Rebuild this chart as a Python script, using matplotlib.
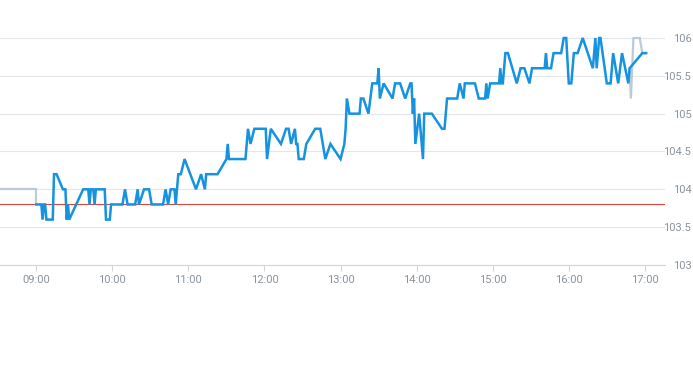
import matplotlib
matplotlib.use("Agg")
import matplotlib.pyplot as plt

# ---- data ----
main_times = ["09:00", "09:04", "09:05", "09:06", "09:07", "09:08", "09:13", "09:14", "09:16", "09:21",
              "09:23", "09:24", "09:25", "09:26", "09:37", "09:41", "09:42", "09:43", "09:45", "09:46",
              "09:47", "09:54", "09:55", "09:58", "09:59", "10:08", "10:10", "10:12", "10:18", "10:20",
              "10:21", "10:25", "10:29", "10:31", "10:40", "10:42", "10:44", "10:46", "10:49", "10:50",
              "10:52", "10:54", "10:57", "11:06", "11:10", "11:13", "11:14", "11:23", "11:30", "11:31",
              "11:32", "11:45", "11:47", "11:49", "11:52", "12:01", "12:02", "12:05", "12:13", "12:17",
              "12:19", "12:21", "12:24", "12:25", "12:26", "12:27", "12:31", "12:33", "12:40", "12:44",
              "12:48", "12:52", "13:00", "13:03", "13:04", "13:05", "13:07", "13:15", "13:16", "13:18",
              "13:22", "13:25", "13:29", "13:30", "13:31", "13:34", "13:41", "13:43", "13:47", "13:51",
              "13:55", "13:56", "13:57", "13:58", "13:59", "14:02", "14:05", "14:06", "14:12", "14:20",
              "14:22", "14:23", "14:24", "14:32", "14:34", "14:37", "14:38", "14:46", "14:49", "14:54",
              "14:55", "14:56", "14:58", "15:05", "15:06", "15:07", "15:08", "15:10", "15:12", "15:19",
              "15:22", "15:25", "15:29", "15:31", "15:41", "15:42", "15:43", "15:46", "15:48", "15:54",
              "15:56", "15:58", "16:00", "16:02", "16:04", "16:07", "16:11", "16:19", "16:21", "16:22",
              "16:24", "16:25", "16:30", "16:33", "16:35", "16:39", "16:42", "16:47", "16:48", "16:58",
              "17:01"]
main_prices = [103.8, 103.8, 103.6, 103.8, 103.8, 103.6, 103.6, 104.2, 104.2, 104.0,
               104.0, 103.6, 103.8, 103.6, 104.0, 104.0, 103.8, 104.0, 104.0, 103.8,
               104.0, 104.0, 103.6, 103.6, 103.8, 103.8, 104.0, 103.8, 103.8, 104.0,
               103.8, 104.0, 104.0, 103.8, 103.8, 104.0, 103.8, 104.0, 104.0, 103.8,
               104.2, 104.2, 104.4, 104.0, 104.2, 104.0, 104.2, 104.2, 104.4, 104.6,
               104.4, 104.4, 104.8, 104.6, 104.8, 104.8, 104.4, 104.8, 104.6, 104.8,
               104.8, 104.6, 104.8, 104.6, 104.6, 104.4, 104.4, 104.6, 104.8, 104.8,
               104.4, 104.6, 104.4, 104.6, 104.8, 105.2, 105.0, 105.0, 105.2, 105.2,
               105.0, 105.4, 105.4, 105.6, 105.2, 105.4, 105.2, 105.4, 105.4, 105.2,
               105.4, 105.4, 105.0, 105.2, 104.6, 105.0, 104.4, 105.0, 105.0, 104.8,
               104.8, 105.0, 105.2, 105.2, 105.4, 105.2, 105.4, 105.4, 105.2, 105.2,
               105.4, 105.2, 105.4, 105.4, 105.6, 105.4, 105.4, 105.8, 105.8, 105.4,
               105.6, 105.6, 105.4, 105.6, 105.6, 105.8, 105.6, 105.6, 105.8, 105.8,
               106.0, 106.0, 105.4, 105.4, 105.8, 105.8, 106.0, 105.6, 106.0, 105.6,
               106.0, 106.0, 105.4, 105.4, 105.8, 105.4, 105.8, 105.4, 105.6, 105.8,
               105.8]

pre_times = ["08:30", "09:00", "09:00"]
pre_prices = [104.0, 104.0, 103.8]

post_times = ["16:48", "16:49", "16:51", "16:56", "16:58", "17:01"]
post_prices = [105.6, 105.2, 106.0, 106.0, 105.8, 105.8]

reference_price = 103.8

x_tick_labels = ["09:00", "10:00", "11:00", "12:00", "13:00", "14:00", "15:00", "16:00", "17:00"]
y_ticks = [103, 103.5, 104, 104.5, 105, 105.5, 106]
y_tick_labels = ["103", "103.5", "104", "104.5", "105", "105.5", "106"]


def to_min(s):
    h, m = s.split(":")
    return int(h) * 60 + int(m)


plt.rcParams['font.family'] = ['Roboto', 'DejaVu Sans']

fig = plt.figure(figsize=(6.93, 3.65), dpi=100)
ax = fig.add_axes([0.0, 0.274, 665 / 693, 0.6323])

label_color = '#8a939d'
grid_color = '#e3e6ea'

ax.plot([to_min(t) for t in pre_times], pre_prices, color='#bccbd8', lw=1.6, zorder=3,
        solid_joinstyle='miter')
ax.plot([to_min(t) for t in post_times], post_prices, color='#bccbd8', lw=1.6, zorder=3,
        solid_joinstyle='miter')
ax.plot([to_min(t) for t in main_times], main_prices, color='#1592e0', lw=1.8, zorder=4,
        solid_joinstyle='miter')
ax.axhline(reference_price, color='#e0463c', lw=0.8, zorder=2)

ax.set_xlim(to_min("09:00") - 28.6, to_min("09:00") + 495.9)
ax.set_ylim(103, 106.05)

ax.set_xticks([to_min(t) for t in x_tick_labels])
ax.set_xticklabels(x_tick_labels)
ax.set_yticks(y_ticks)
ax.set_yticklabels(y_tick_labels)

ax.yaxis.tick_right()
for lab in ax.get_yticklabels():
    lab.set_horizontalalignment('right')
ax.tick_params(axis='y', length=0, pad=19, labelsize=8, labelcolor=label_color)
ax.tick_params(axis='x', length=4, width=0.8, color='#cfd6dd', pad=3, labelsize=8,
               labelcolor=label_color)

ax.grid(axis='y', color=grid_color, lw=0.8, zorder=1)
ax.grid(axis='x', visible=False)
for side in ['top', 'left', 'right']:
    ax.spines[side].set_visible(False)
ax.spines['bottom'].set_color('#cfd6dd')
ax.spines['bottom'].set_linewidth(0.8)
ax.set_facecolor('white')

fig.savefig("out.png", dpi=100, facecolor='white')
